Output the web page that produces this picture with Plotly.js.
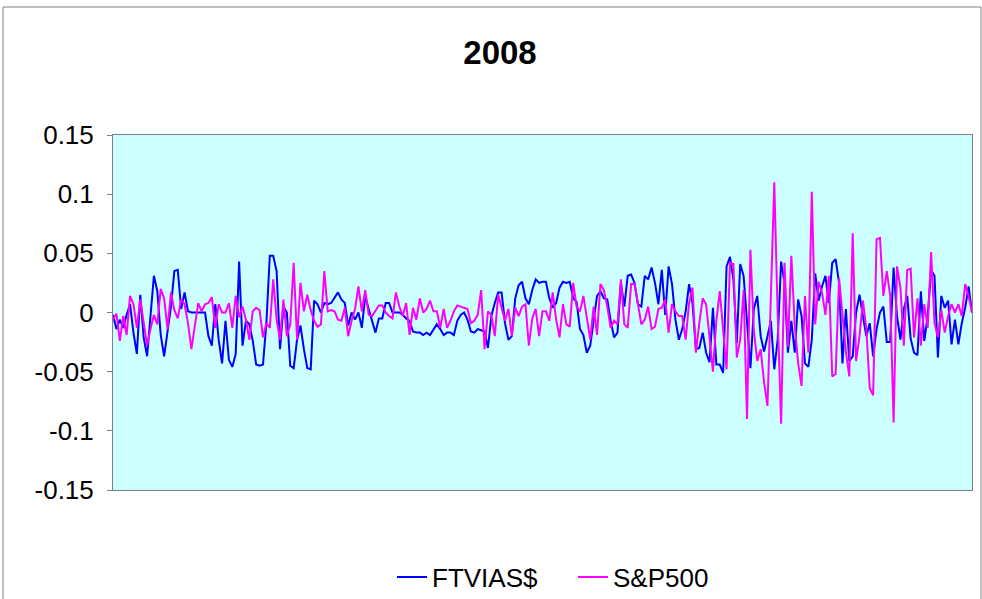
<!DOCTYPE html>
<html>
<head>
<meta charset="utf-8">
<script src="https://cdn.plot.ly/plotly-3.0.1.min.js"></script>
<style>html,body{margin:0;padding:0;background:#fff;}#chart{width:982px;height:599px;}</style>
</head>
<body>
<div id="chart"></div>
<script>
// Daily returns, 2008
const ftvias = [
  -0.002, -0.014, -0.006, -0.013, -0.002, 0.007, -0.017, -0.035, 0.015, -0.021, -0.037, -0.006, 0.031, 0.018, -0.019, -0.037, -0.017, 0.005, 0.035, 0.036, 0.003, 0.017, 0.001, 0, 0,
  0, 0, 0, -0.020, -0.028, 0.007, -0.023, -0.043, -0.007, -0.040, -0.046, -0.035, 0.043, -0.028, -0.007, -0.010, -0.024, -0.044, -0.045, -0.044, -0.009, 0.048, 0.048, 0.035, -0.031, 0.005,
  0, -0.045, -0.047, -0.023, -0.011, -0.031, -0.047, -0.048, 0.010, 0.007, 0, 0.008, 0.007, 0.008, 0.012, 0.017, 0.011, 0.008, -0.011, 0, -0.006, 0, -0.013, 0.014, 0.003,
  -0.006, -0.017, -0.005, -0.005, 0.008, 0.008, 0, 0, 0, -0.002, -0.005, -0.007, -0.016, -0.017, -0.017, -0.019, -0.017, -0.019, -0.014, -0.010, -0.014, -0.019, -0.017, -0.017, -0.019, -0.007,
  -0.002, 0, -0.006, -0.016, -0.017, -0.014, -0.015, -0.016, -0.030, -0.003, 0.008, 0.017, 0.017, -0.009, -0.023, -0.020, 0.012, 0.023, 0.026, 0.012, 0.007, 0.019, 0.028, 0.025, 0.026,
  0.026, 0.012, 0.004, 0.008, 0.021, 0.026, 0.025, 0.026, 0.012, 0.009, -0.014, -0.019, -0.034, -0.028, -0.006, 0.014, 0.018, 0.012, 0.011, -0.007, -0.021, -0.017, 0.025, 0.005, 0.031, 0.032,
  0.025, 0.007, 0.005, 0.031, 0.028, 0.038, 0.025, 0.007, 0.036, -0.002, 0.039, 0.024, -0.006, -0.023, -0.014, 0.001, 0.024, 0.008, -0.031, -0.030, -0.017, -0.034, -0.042, 0.004, -0.044,
  -0.044, -0.051, 0.039, 0.047, 0.028, -0.026, 0.041, 0.031, -0.011, -0.047, 0.003, 0.014, -0.020, -0.033, -0.020, -0.007, -0.048, -0.023, 0.043, 0.025, -0.034, -0.007, -0.034, 0.011, -0.003, -0.043,
  -0.046, -0.023, 0.033, 0.010, 0.022, 0.031, 0.008, 0.042, 0.045, 0.025, -0.043, 0.003, -0.041, -0.037, 0, 0.015, -0.003, -0.020, -0.009, -0.037, -0.014, 0, 0.005, -0.025, -0.025,
  0.038, -0.003, -0.023, 0.003, 0.014, -0.022, -0.034, -0.036, 0.018, -0.024, -0.003, 0.036, 0.031, -0.038, 0.014, 0.004, 0.010, -0.027, -0.006, -0.027, -0.009, 0.004, 0.022, 0
];
const sp500 = [
  -0.006, -0.001, -0.024, -0.003, -0.019, 0.014, 0.007, -0.013, 0.011, -0.009, -0.028, -0.014, -0.002, -0.010, 0.020, 0.012, -0.014, 0.017, 0.002, -0.005, 0.011, 0.007, -0.009, -0.031, -0.012,
  0.008, 0.001, 0.007, 0.008, 0.013, -0.013, 0.007, 0, 0, 0.008, -0.013, 0.014, -0.004, 0.005, -0.006, -0.023, 0.001, 0.004, 0.002, -0.021, -0.009, -0.013, 0.028, -0.006, -0.023, 0.011,
  -0.020, -0.010, 0.042, -0.023, 0.025, 0.001, 0.015, 0.002, -0.007, -0.012, -0.010, 0.035, 0.001, 0.002, 0.001, -0.006, -0.007, 0.004, -0.020, -0.007, 0.003, 0.022, 0.001, 0.019, -0.002,
  -0.003, 0.001, 0.006, 0.006, 0, -0.003, -0.005, 0.017, 0.005, -0.003, 0.008, -0.019, 0.004, -0.006, 0.012, 0, 0.003, 0.010, 0.001, 0.001, -0.013, 0.003, -0.013, -0.007, 0.001, 0.006,
  0.005, 0.004, 0.003, -0.009, -0.007, -0.002, 0.019, -0.031, 0.001, -0.002, -0.020, 0.015, 0.003, -0.007, 0.003, -0.020, 0.004, -0.003, 0.005, 0.007, -0.028, -0.005, 0.003, -0.020, 0.001,
  0.001, -0.007, 0.017, -0.006, -0.021, 0.007, -0.010, -0.012, 0.025, 0.005, 0.001, 0.014, -0.006, -0.023, 0.005, -0.019, 0.024, 0.019, 0.005, -0.013, -0.007, -0.010, 0.028, -0.010, -0.013, 0.024,
  0.024, 0.005, -0.010, -0.006, 0.005, -0.014, -0.012, 0.003, 0.004, 0.011, -0.017, 0.007, 0.001, -0.003, -0.003, -0.023, 0.008, 0.021, -0.034, -0.009, 0.012, 0.007, -0.020, -0.050, -0.007,
  0.018, -0.015, -0.048, 0.042, 0.041, -0.038, -0.023, 0.019, -0.090, 0.053, -0.015, -0.041, -0.031, -0.059, -0.079, 0.014, 0.110, -0.003, -0.094, 0.042, -0.029, 0.048, -0.011, -0.043, -0.062, 0.014,
  -0.034, 0.102, -0.010, 0.026, 0.017, -0.002, 0.031, -0.054, -0.052, 0.029, -0.003, -0.033, -0.054, 0.067, -0.041, -0.020, 0.010, -0.014, -0.064, -0.070, 0.062, 0.063, 0.014, 0.035, 0.014,
  -0.093, 0.039, 0.021, -0.028, 0.036, 0.037, -0.021, 0.012, -0.028, 0.007, -0.013, 0.051, -0.009, -0.021, 0.002, -0.017, -0.003, 0.007, 0, 0.007, -0.003, 0.024, 0.014, 0
];
const seriesNames = ["FTVIAS$", "S&P500"];
const yTickVals = [-0.15, -0.1, -0.05, 0, 0.05, 0.1, 0.15];
const yTickText = ["-0.15", "-0.1", "-0.05", "0", "0.05", "0.1", "0.15"];
const chartTitle = "2008";

const days = ftvias.map((_, i) => i);
const font = '"Liberation Sans", Arial, sans-serif';

const traces = [
  {x: days, y: ftvias, type: 'scatter', mode: 'lines', name: seriesNames[0],
   line: {color: '#0000FF', width: 2}},
  {x: days, y: sp500, type: 'scatter', mode: 'lines', name: seriesNames[1],
   line: {color: '#FF00FF', width: 2}}
];

const W = 982, H = 599, L = 113, R = 10, T = 135, B = 109;
const pw = W - L - R, ph = H - T - B;
const px = v => (v - L) / pw;
const py = v => (H - B - v) / ph;

const layout = {
  width: W, height: H,
  margin: {l: L, r: R, t: T, b: B, pad: 0, autoexpand: false},
  paper_bgcolor: '#ffffff',
  plot_bgcolor: '#CCFFFF',
  font: {family: font, color: '#000000', size: 24},
  title: {text: '<b>' + chartTitle + '</b>', font: {family: font, size: 33, color: '#000'},
          x: 500 / W, xref: 'container', xanchor: 'center', y: 1 - 52 / H, yref: 'container', yanchor: 'middle'},
  showlegend: true,
  legend: {orientation: 'h', x: px(392), xanchor: 'left', y: py(577), yanchor: 'middle',
           entrywidth: 136, entrywidthmode: 'pixels',
           font: {family: font, size: 26, color: '#000'}, bgcolor: 'rgba(0,0,0,0)',
           traceorder: 'normal'},
  xaxis: {range: [0, days.length - 1], showticklabels: false, ticks: '', showgrid: false,
          zeroline: false, showline: true, mirror: true, linecolor: '#808080', linewidth: 1},
  yaxis: {range: [-0.15, 0.15], tickvals: yTickVals, ticktext: yTickText, ticks: 'outside',
          ticklen: 5, tickcolor: '#808080', showgrid: false, zeroline: false,
          showline: true, mirror: true, linecolor: '#808080', linewidth: 1,
          ticklabelstandoff: 8, tickfont: {family: font, size: 26, color: '#000'}},
  shapes: [{type: 'rect', xref: 'paper', yref: 'paper', x0: px(3), x1: px(981), y0: py(640), y1: py(7),
            line: {color: '#808080', width: 1}, fillcolor: 'rgba(0,0,0,0)', layer: 'below'}]
};

Plotly.newPlot('chart', traces, layout, {displayModeBar: false, staticPlot: true});
</script>
</body>
</html>
